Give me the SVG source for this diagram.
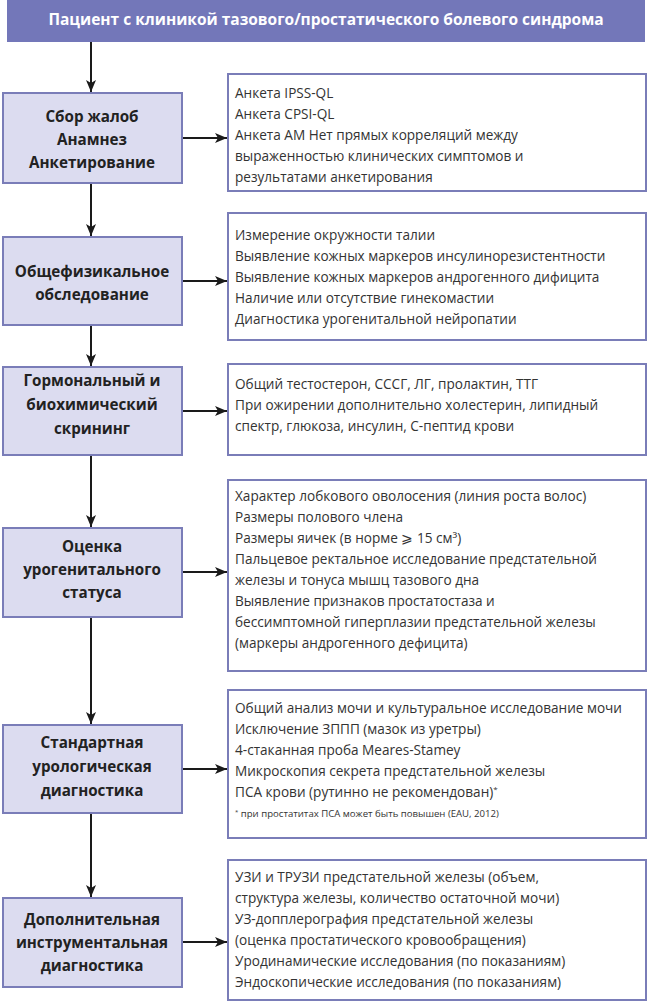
<svg xmlns="http://www.w3.org/2000/svg" width="652" height="1006" viewBox="0 0 652 1006">
<defs>
<marker id="ah" markerWidth="12" markerHeight="10" refX="12" refY="5" orient="auto" markerUnits="userSpaceOnUse">
<path d="M0,0 L12,5 L0,10 L3,5 Z" fill="#1a1a1a"/>
</marker>
<style>
.hdr{fill:#7377b9}
.hdrt{font-family:"Open Sans","Liberation Sans",sans-serif;font-weight:bold;font-size:15.5px;fill:#fff;text-anchor:middle}
.lb{fill:#dcdcf0;stroke:#7a7db8;stroke-width:2}
.rb{fill:#fff;stroke:#7a7db8;stroke-width:2}
.lt{font-family:"Open Sans","Liberation Sans",sans-serif;font-weight:bold;font-size:15.2px;fill:#222;text-anchor:middle}
.rt{font-family:"Open Sans","Liberation Sans",sans-serif;font-size:13.6px;fill:#333}
.fn{font-family:"Open Sans","Liberation Sans",sans-serif;font-size:9.6px;fill:#333}
.sup{font-size:8px}
.c{stroke:#1a1a1a;stroke-width:2;fill:none;marker-end:url(#ah)}
</style>
</defs>
<g id="header">
<rect class="hdr" x="7" y="0" width="638" height="42"/>
<text class="hdrt" x="326" y="25">Пациент с клиникой тазового/простатического болевого синдрома</text>
</g>
<g id="connectors">
<line class="c" x1="91" y1="42" x2="91" y2="92"/>
<line class="c" x1="91" y1="183" x2="91" y2="236"/>
<line class="c" x1="91" y1="325" x2="91" y2="366"/>
<line class="c" x1="91" y1="455" x2="91" y2="527"/>
<line class="c" x1="91" y1="617" x2="91" y2="724"/>
<line class="c" x1="91" y1="813" x2="91" y2="897"/>
<line class="c" x1="182" y1="138" x2="227" y2="138"/>
<line class="c" x1="182" y1="281" x2="227" y2="281"/>
<line class="c" x1="182" y1="411" x2="227" y2="411"/>
<line class="c" x1="182" y1="572" x2="227" y2="572"/>
<line class="c" x1="182" y1="769" x2="227" y2="769"/>
<line class="c" x1="182" y1="942" x2="227" y2="942"/>
</g>
<g id="n1">
<rect class="lb" x="3" y="93" width="179" height="90"/>
<text class="lt" x="92" y="122">Сбор жалоб</text>
<text class="lt" x="92" y="145">Анамнез</text>
<text class="lt" x="92" y="168">Анкетирование</text>
</g>
<g id="r1">
<rect class="rb" x="228" y="74" width="418" height="117"/>
<text class="rt" x="235" y="98">Анкета IPSS-QL</text>
<text class="rt" x="235" y="119">Анкета CPSI-QL</text>
<text class="rt" x="235" y="140">Анкета АМ Нет прямых корреляций между</text>
<text class="rt" x="235" y="161">выраженностью клинических симптомов и</text>
<text class="rt" x="235" y="182">результатами анкетирования</text>
</g>
<g id="n2">
<rect class="lb" x="3" y="237" width="179" height="88"/>
<text class="lt" x="92" y="277">Общефизикальное</text>
<text class="lt" x="92" y="300">обследование</text>
</g>
<g id="r2">
<rect class="rb" x="228" y="213" width="418" height="127"/>
<text class="rt" x="235" y="240">Измерение окружности талии</text>
<text class="rt" x="235" y="261">Выявление кожных маркеров инсулинорезистентности</text>
<text class="rt" x="235" y="282">Выявление кожных маркеров андрогенного дифицита</text>
<text class="rt" x="235" y="303">Наличие или отсутствие гинекомастии</text>
<text class="rt" x="235" y="324">Диагностика урогенитальной нейропатии</text>
</g>
<g id="n3">
<rect class="lb" x="3" y="367" width="179" height="88"/>
<text class="lt" x="92" y="386">Гормональный и</text>
<text class="lt" x="92" y="410">биохимический</text>
<text class="lt" x="92" y="434">скрининг</text>
</g>
<g id="r3">
<rect class="rb" x="228" y="364" width="418" height="91"/>
<text class="rt" x="235" y="389">Общий тестостерон, СССГ, ЛГ, пролактин, ТТГ</text>
<text class="rt" x="235" y="410">При ожирении дополнительно холестерин, липидный</text>
<text class="rt" x="235" y="431">спектр, глюкоза, инсулин, С-пептид крови</text>
</g>
<g id="n4">
<rect class="lb" x="3" y="528" width="179" height="89"/>
<text class="lt" x="92" y="552">Оценка</text>
<text class="lt" x="92" y="575">урогенитального</text>
<text class="lt" x="92" y="598">статуса</text>
</g>
<g id="r4">
<rect class="rb" x="228" y="480" width="418" height="191"/>
<text class="rt" x="235" y="501">Характер лобкового оволосения (линия роста волос)</text>
<text class="rt" x="235" y="522">Размеры полового члена</text>
<text class="rt" x="235" y="543">Размеры яичек (в норме ⩾ 15 см³)</text>
<text class="rt" x="235" y="564">Пальцевое ректальное исследование предстательной</text>
<text class="rt" x="235" y="585">железы и тонуса мышц тазового дна</text>
<text class="rt" x="235" y="606">Выявление признаков простатостаза и</text>
<text class="rt" x="235" y="627">бессимптомной гиперплазии предстательной железы</text>
<text class="rt" x="235" y="648">(маркеры андрогенного дефицита)</text>
</g>
<g id="n5">
<rect class="lb" x="3" y="725" width="179" height="88"/>
<text class="lt" x="92" y="748">Стандартная</text>
<text class="lt" x="92" y="772">урологическая</text>
<text class="lt" x="92" y="796">диагностика</text>
</g>
<g id="r5">
<rect class="rb" x="228" y="690" width="418" height="148"/>
<text class="rt" x="235" y="713">Общий анализ мочи и культуральное исследование мочи</text>
<text class="rt" x="235" y="734">Исключение ЗППП (мазок из уретры)</text>
<text class="rt" x="235" y="755">4-стаканная проба Meares-Stamey</text>
<text class="rt" x="235" y="776">Микроскопия секрета предстательной железы</text>
<text class="rt" x="235" y="797">ПСА крови (рутинно не рекомендован)<tspan class="sup" dy="-5">*</tspan></text>
<text class="fn" x="235" y="817"><tspan dy="-3" font-size="6px">*</tspan><tspan dy="3"> при простатитах ПСА может быть повышен (EAU, 2012)</tspan></text>
</g>
<g id="n6">
<rect class="lb" x="3" y="898" width="179" height="89"/>
<text class="lt" x="92" y="925">Дополнительная</text>
<text class="lt" x="92" y="948">инструментальная</text>
<text class="lt" x="92" y="971">диагностика</text>
</g>
<g id="r6">
<rect class="rb" x="228" y="860" width="418" height="140"/>
<text class="rt" x="235" y="882">УЗИ и ТРУЗИ предстательной железы (объем,</text>
<text class="rt" x="235" y="903">структура железы, количество остаточной мочи)</text>
<text class="rt" x="235" y="924">УЗ-допплерография предстательной железы</text>
<text class="rt" x="235" y="945">(оценка простатического кровообращения)</text>
<text class="rt" x="235" y="966">Уродинамические исследования (по показаниям)</text>
<text class="rt" x="235" y="987">Эндоскопические исследования (по показаниям)</text>
</g>
</svg>
